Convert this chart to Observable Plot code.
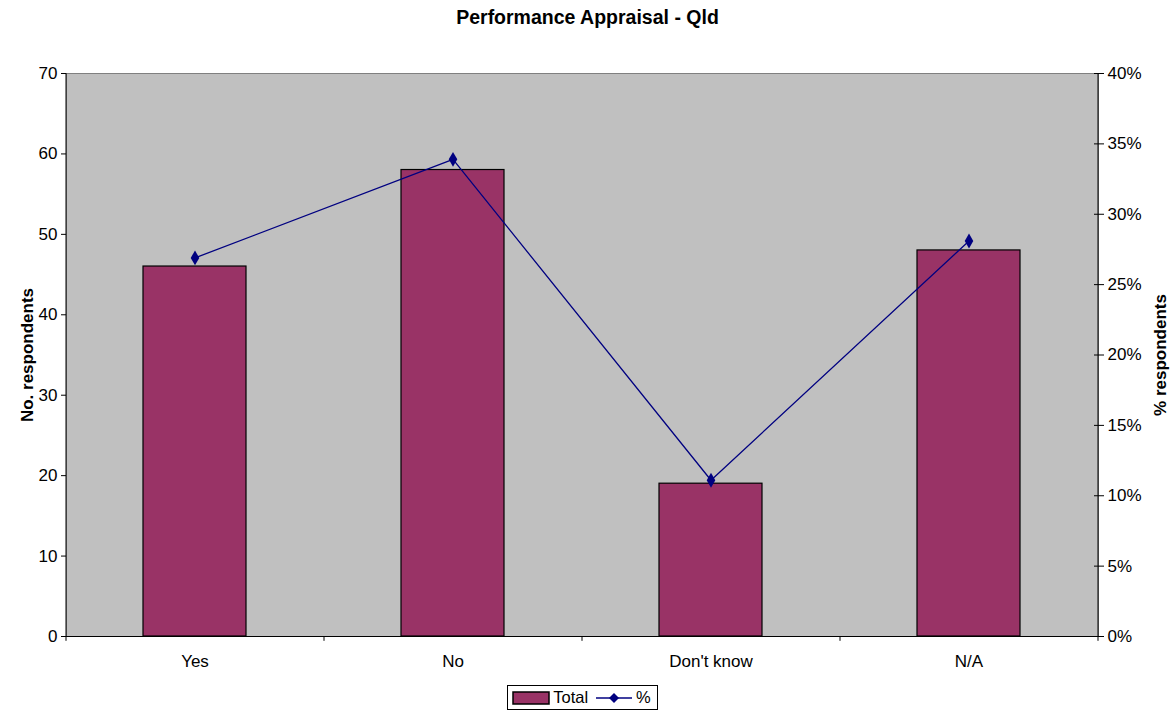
<!DOCTYPE html>
<html><head><meta charset="utf-8">
<script src="https://cdn.jsdelivr.net/npm/d3@7"></script>
<script src="https://cdn.jsdelivr.net/npm/@observablehq/plot@0.6"></script>
<style>
body{margin:0;background:#fff;font-family:"Liberation Sans",Arial,sans-serif;}
#title{height:35px;line-height:34px;text-align:center;font-weight:bold;font-size:19.5px;}
#legend{display:flex;justify-content:center;margin-top:0px;padding-right:10px;}
#legend .box{border:1px solid #000;display:flex;align-items:center;padding:2px 6px 2px 4px;font-size:16.5px;gap:3px;}
svg [aria-label="y-axis label"] text, svg [aria-label="y-axis label"]{font-weight:bold;}
</style></head>
<body>
<div id="title">Performance Appraisal - Qld</div>
<div id="chart"></div>
<div id="legend"><div class="box">
<svg width="38" height="14"><rect x="1" y="1" width="36" height="12" fill="#993366" stroke="#000" stroke-width="1.5"/></svg><span>Total</span>
<svg width="38" height="14" style="margin-left:4px"><line x1="1" y1="7" x2="37" y2="7" stroke="#000080" stroke-width="1.5"/><path d="M19,2 L24,7 L19,12 L14,7Z" fill="#000080"/></svg><span>%</span>
</div></div>
<script>
const categories = ["Yes", "No", "Don't know", "N/A"];
const totals = [46, 58, 19, 48];
const percents = [26.9, 33.9, 11.1, 28.1];
const leftTicks = [0, 10, 20, 30, 40, 50, 60, 70];
const rightTicks = [0, 5, 10, 15, 20, 25, 30, 35, 40];

const W = 1175, H = 650, mL = 66, mR = 77, mT = 38, mB = 49;
const yMax = 70, pMax = 40;
const toLeft = p => p * yMax / pMax;
const step = (W - mL - mR) / categories.length;
const FS = 17;

const rows = categories.map((c, i) => ({cat: c, total: totals[i], pct: percents[i]}));

const plot = Plot.plot({
  width: W, height: H,
  marginLeft: mL, marginRight: mR, marginTop: mT, marginBottom: mB,
  style: {fontFamily: '"Liberation Sans", Arial, sans-serif', fontSize: FS + "px", background: "#fff", overflow: "visible"},
  x: {domain: categories, paddingInner: 0.6, paddingOuter: 0.3, axis: null},
  y: {domain: [0, yMax], axis: null},
  marks: [
    Plot.frame({fill: "#C0C0C0", stroke: "#808080"}),
    Plot.barY(rows, {x: "cat", y: "total", fill: "#993366", stroke: "#000", strokeWidth: 1.2}),
    Plot.line(rows, {x: "cat", y: d => toLeft(d.pct), stroke: "#000080", strokeWidth: 1.3}),
    Plot.dot(rows, {x: "cat", y: d => toLeft(d.pct), symbol: "diamond", r: 4.5, fill: "#000080", stroke: "none"}),
    // axis lines
    Plot.ruleY([0], {stroke: "#000"}),
    Plot.ruleX([0], {x: () => categories[0], dx: -step / 2, y1: 0, y2: yMax, stroke: "#000"}),
    Plot.ruleX([0], {x: () => categories[categories.length - 1], dx: step / 2, y1: 0, y2: yMax, stroke: "#000"}),
    // category boundary ticks
    Plot.ruleX(categories, {x: d => d, dx: -step / 2, y1: 0, y2: -0.6, stroke: "#000"}),
    Plot.ruleX([categories[categories.length - 1]], {x: d => d, dx: step / 2, y1: 0, y2: -0.6, stroke: "#000"}),
    Plot.axisX({tickSize: 0, tickPadding: 18, fontSize: FS, label: null}),
    Plot.axisY({anchor: "left", ticks: leftTicks, tickSize: 5, tickPadding: 4, label: "No. respondents", labelAnchor: "center", labelOffset: 46, labelArrow: "none", fontSize: FS}),
    // right axis: crossing ticks, then labels
    Plot.axisY({anchor: "right", ticks: rightTicks.map(toLeft), tickSize: 10, dx: -5, tickFormat: () => "", label: null}),
    Plot.axisY({anchor: "right", ticks: rightTicks.map(toLeft), tickFormat: d => Math.round(d * pMax / yMax) + "%", tickSize: 0, tickPadding: 9, label: null, fontSize: FS}),
    Plot.text(["% respondents"], {frameAnchor: "right", text: d => d, rotate: -90, dx: 62, textAnchor: "middle", fontWeight: "bold", fontSize: FS})
  ]
});
document.getElementById("chart").appendChild(plot);
</script>
</body></html>
